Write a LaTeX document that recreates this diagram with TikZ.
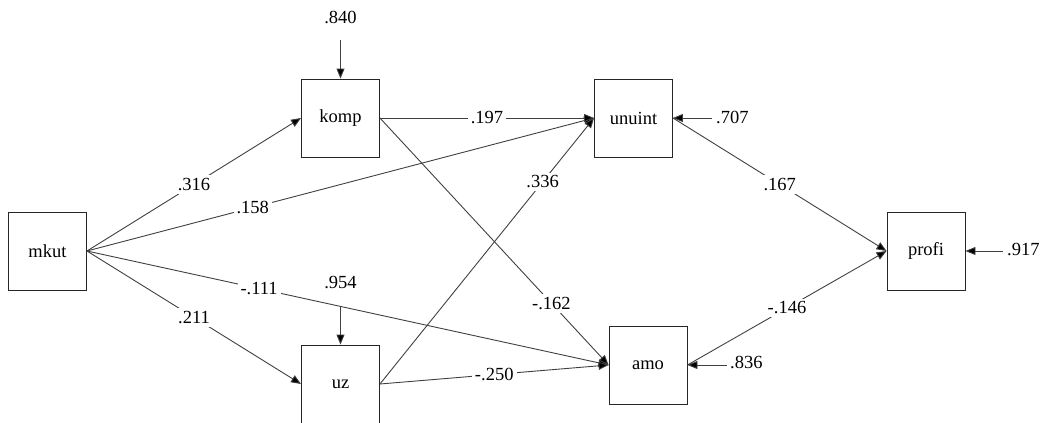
\documentclass[tikz,border=0pt]{standalone}
\usepackage{fontspec}
\setmainfont{Liberation Serif}
\newfontfamily\semfont{Liberation Serif}
\usetikzlibrary{arrows.meta}
\begin{document}
\begin{tikzpicture}[x=1pt,y=-1pt,
  var/.style={draw=black!85,line width=0.9pt,minimum size=78pt,inner sep=0pt,font=\semfont\fontsize{18.5}{20}\selectfont},
  path/.style={draw=black!75,line width=0.9pt,-{Triangle[length=10pt,width=8pt,fill=black]}},
  lbl/.style={fill=white,inner sep=3pt,font=\semfont\fontsize{18.5}{20}\selectfont},
  txt/.style={inner sep=0pt,font=\semfont\fontsize{18.5}{20}\selectfont}]
\useasboundingbox (0,0) rectangle (1047,423);
\node[var] (mkut) at (47.5,251) {mkut};
\node[var] (komp) at (340.5,118) {komp};
\node[var] (unuint) at (633.5,118) {unuint};
\node[var] (uz) at (340.5,384) {uz};
\node[var] (amo) at (648,365) {amo};
\node[var] (profi) at (926,251) {profi};
% error terms
\node[txt] (t1) at (340.5,17) {.840};
\coordinate (e1) at (340.5,40);
\node[txt] (t2) at (340.5,283) {.954};
\coordinate (e2) at (340.5,307);
\node[txt,anchor=west] (t3) at (716,117) {.707};
\coordinate (e3) at (712,118);
\node[txt,anchor=west] (t4) at (730,362) {.836};
\coordinate (e4) at (727,365);
\node[txt,anchor=west] (t5) at (1007,250) {.917};
\coordinate (e5) at (1003,251);
\draw[path] (e1) -- (komp.north);
\draw[path] (e2) -- (uz.north);
\draw[path] (e3) -- (unuint.east);
\draw[path] (e4) -- (amo.east);
\draw[path] (e5) -- (profi.east);
% paths
\draw[path] (mkut.east) -- node[lbl,pos=0.5] {.316} (komp.west);
\draw[path] (mkut.east) -- node[lbl,pos=0.327] {.158} (unuint.west);
\draw[path] (mkut.east) -- node[lbl,pos=0.33] {-.111} (amo.west);
\draw[path] (mkut.east) -- node[lbl,pos=0.5] {.211} (uz.west);
\draw[path] (komp.east) -- node[lbl,pos=0.5] {.197} (unuint.west);
\draw[path] (komp.east) -- node[lbl,pos=0.75] {-.162} (amo.west);
\draw[path] (uz.east) -- node[lbl,pos=0.76] {.336} (unuint.west);
\draw[path] (uz.east) -- node[lbl,pos=0.5] {-.250} (amo.west);
\draw[path] (unuint.east) -- node[lbl,pos=0.5] {.167} (profi.west);
\draw[path] (amo.east) -- node[lbl,pos=0.5] {-.146} (profi.west);
\end{tikzpicture}
\end{document}
